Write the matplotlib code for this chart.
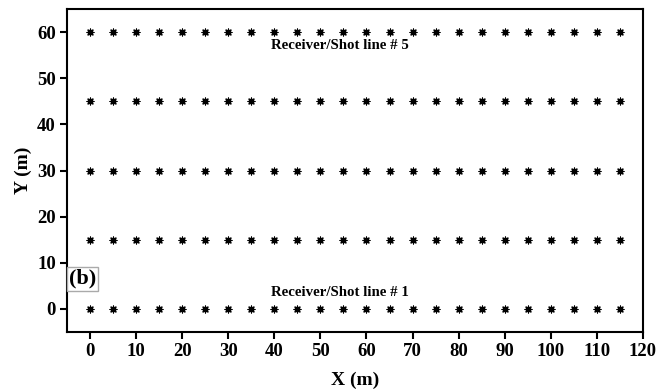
import numpy as np
import matplotlib.pyplot as plt

plt.rcParams['font.family'] = ['Liberation Serif', 'DejaVu Serif']
plt.rcParams['font.weight'] = 'bold'

# receiver/shot positions
x_positions = list(range(0, 120, 5))
line_y = [0, 15, 30, 45, 60]
x_ticks = list(range(0, 121, 10))
y_ticks = [0, 10, 20, 30, 40, 50, 60]

fig = plt.figure(figsize=(6.67, 3.92), dpi=100)
ax = fig.add_axes([0.1004, 0.153, 0.8636, 0.824])

for y in line_y:
    ax.scatter(x_positions, [y] * len(x_positions), marker=(8, 2, 0),
               s=24, color='black', linewidths=0.9)

ax.set_xlim(-5, 120)
ax.set_ylim(-5, 65)
ax.set_xticks(x_ticks)
ax.set_yticks(y_ticks)
ax.tick_params(direction='out', length=5, width=1.5, labelsize=13.5, pad=3)
for lbl in ax.get_xticklabels() + ax.get_yticklabels():
    lbl.set_fontweight('bold')
for sp in ax.spines.values():
    sp.set_linewidth(1.5)

ax.set_xlabel('X (m)', fontsize=14, fontweight='bold', labelpad=8)
ax.set_ylabel('Y (m)', fontsize=14, fontweight='bold', labelpad=4)

ax.text(54.2, 57.2, 'Receiver/Shot line # 5', ha='center', va='center',
        fontsize=10.7, fontweight='bold')
ax.text(54.2, 3.6, 'Receiver/Shot line # 1', ha='center', va='center',
        fontsize=10.7, fontweight='bold')
ax.text(-4.6, 6.5, '(b)', ha='left', va='center', fontsize=16, fontweight='bold',
        bbox=dict(facecolor='white', edgecolor='#aaaaaa', boxstyle='square,pad=0.1'))

fig.savefig('out.png', dpi=100)
